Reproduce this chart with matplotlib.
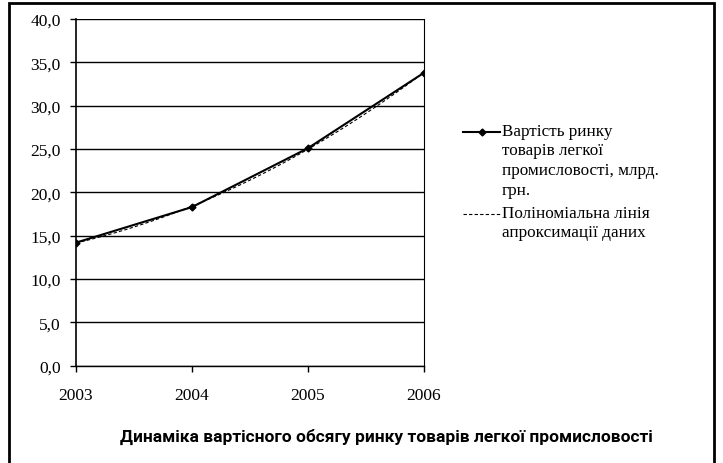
import numpy as np
import matplotlib.pyplot as plt
from matplotlib.patches import Rectangle
from matplotlib.lines import Line2D

years = ['2003', '2004', '2005', '2006']
values = [14.2, 18.3, 25.1, 33.8]
yticks = [0, 5, 10, 15, 20, 25, 30, 35, 40]

series_label = 'Вартість ринку\nтоварів легкої\nпромисловості, млрд.\nгрн.'
trend_label = 'Поліноміальна лінія\nапроксимації даних'
title = 'Динаміка вартісного обсягу ринку товарів легкої промисловості'

plt.rcParams['font.family'] = ['Liberation Serif', 'DejaVu Serif']

fig = plt.figure(figsize=(7.23, 4.64), dpi=100)
ax = fig.add_axes([76 / 723, 1 - 366.7 / 464, 348 / 723, 346.7 / 464])

x = np.arange(len(years))
# polynomial (2nd order) trendline through the data, as in the spreadsheet
coef = np.polyfit(x, values, 2)
xs = np.linspace(0, len(years) - 1, 100)
ax.plot(xs, np.polyval(coef, xs), color='black', lw=0.8, ls=(0, (3, 2)), zorder=3)
ax.plot(x, values, color='black', lw=1.5, marker='D', ms=3.5, zorder=4)

ax.set_xlim(0, len(years) - 1)
ax.set_ylim(0, 40)
ax.set_yticks(yticks)
ax.set_yticklabels([('%.1f' % v).replace('.', ',') for v in yticks], fontsize=12.5)
ax.set_xticks(x)
ax.set_xticklabels(years, fontsize=12.5)
ax.yaxis.grid(True, color='black', lw=1.0)
ax.set_axisbelow(True)
ax.spines['top'].set_visible(False)
ax.spines['left'].set_linewidth(1.2)
ax.spines['bottom'].set_linewidth(1.0)
ax.spines['right'].set_linewidth(0.8)
ax.tick_params(axis='y', length=4, width=1, pad=7)
ax.tick_params(axis='x', length=4, width=1, pad=11)

# legend, handles aligned with the first line of each entry
def legend_entry(ytop, text, **line_kw):
    yf = 1 - ytop / 464
    fig.add_artist(Line2D([463 / 723, 500 / 723], [yf, yf],
                          transform=fig.transFigure, color='black', **line_kw))
    fig.text(502 / 723, yf + 9.5 / 464, text, ha='left', va='top', fontsize=12.3,
             linespacing=1.33, transform=fig.transFigure)

legend_entry(133, series_label, lw=1.5)
fig.add_artist(Line2D([481.5 / 723], [1 - 133 / 464], transform=fig.transFigure,
                      color='black', marker='D', ms=3.5, ls='none'))
legend_entry(215, trend_label, lw=0.8, ls=(0, (3, 2)))

fig.text(386 / 723, 1 - 437 / 464, title, ha='center', va='center',
         fontsize=12.5, fontweight='bold', family=['Roboto', 'DejaVu Sans'])

fig.patches.append(Rectangle((9 / 723, -0.01), 705 / 723, 1 - 4 / 464 + 0.01,
                             transform=fig.transFigure, fill=False,
                             edgecolor='black', lw=2))

fig.savefig('out.png', dpi=100)
